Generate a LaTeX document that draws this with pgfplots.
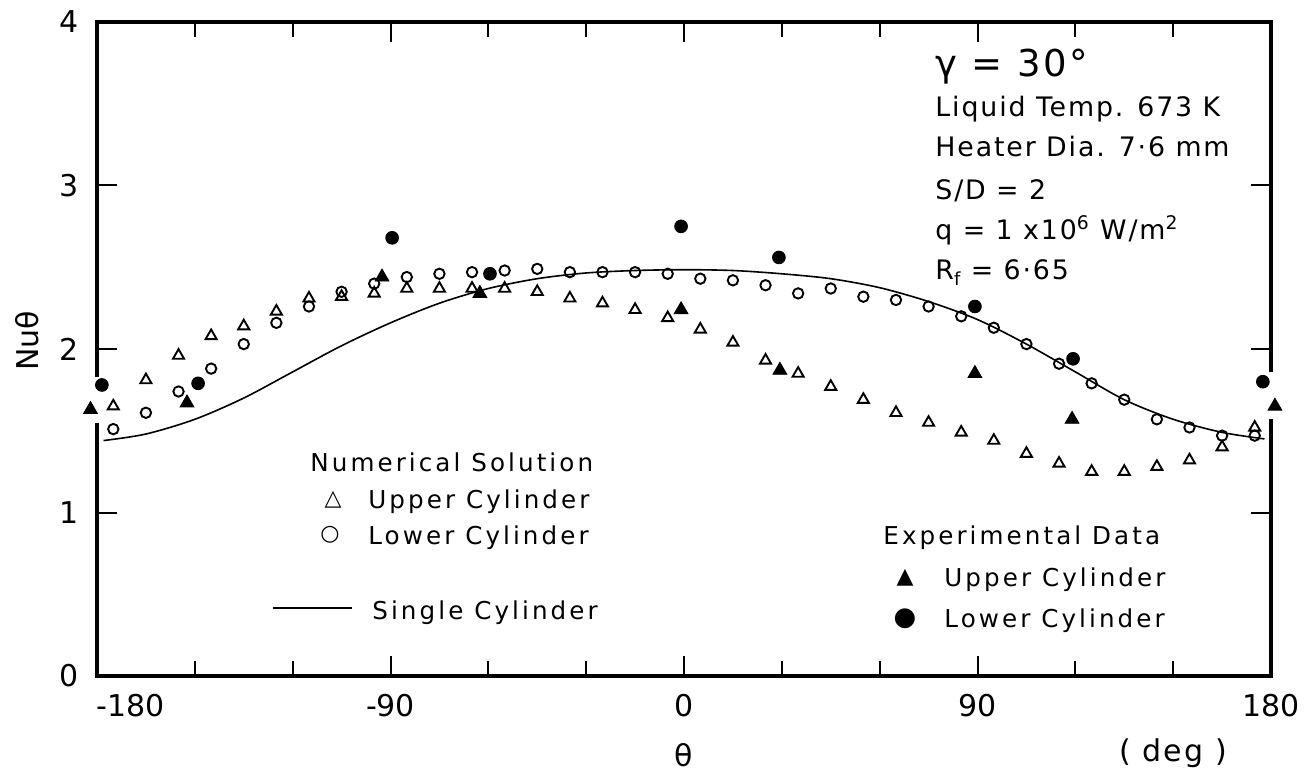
\documentclass[border=0pt]{standalone}
\usepackage{fontspec}
\setmainfont{DejaVu Sans}
\newfontfamily\lgd{DejaVu Sans}[LetterSpace=12.5]
\newfontfamily\ann{DejaVu Sans}[LetterSpace=7]
\newfontfamily\sym{DejaVu Sans}
\usepackage{pgfplots}
\pgfplotsset{compat=1.18}
\usetikzlibrary{calc}
\newcommand\PP[2]{($(ax.south west)+({(#1-97)*0.5pt},{(676-#2)*0.5pt})$)}
\begin{document}
\begin{tikzpicture}
\begin{axis}[name=ax, scale only axis, width=587pt, height=327pt,
 xmin=-180,xmax=180,ymin=0,ymax=4,
 xtick={-180,-90,0,90,180},
 xticklabels={\makebox[0pt][l]{-180},-90,0,90,180},
 minor xtick={-150,-120,-60,-30,30,60,120,150},
 ytick={0,1,2,3,4},
 tick align=inside,
 major tick length=10pt, minor tick length=7.5pt,
 tick style={line width=1pt, black},
 axis line style={draw=none},
 tick label style={font=\fontsize{15}{18}\selectfont},
 xticklabel style={yshift=-5.5pt},
 yticklabel style={xshift=-5.5pt},
 /pgf/number format/assume math mode=true,
 clip=false,
]
% single cylinder
\addplot[black, line width=0.8pt, smooth, no marks] coordinates {
(-178,1.44) (-165,1.48) (-150,1.57) (-135,1.70) (-120,1.86) (-105,2.02)
(-90,2.16) (-75,2.28) (-60,2.37) (-45,2.43) (-30,2.465) (-15,2.48)
(0,2.485) (15,2.48) (30,2.46) (45,2.43) (60,2.375) (75,2.29)
(90,2.18) (105,2.03) (120,1.86) (135,1.69) (150,1.57) (165,1.49) (178,1.45)};
% numerical upper
\addplot[only marks, mark=triangle, mark size=3.2pt, mark options={line width=0.95pt, fill=white}] coordinates {
(-175,1.65) (-165,1.81) (-155,1.96) (-145,2.08) (-135,2.14) (-125,2.23)
(-115,2.31) (-105,2.32) (-95,2.34) (-85,2.37) (-75,2.37) (-65,2.37)
(-55,2.37) (-45,2.35) (-35,2.31) (-25,2.28) (-15,2.24) (-5,2.19)
(5,2.12) (15,2.04) (25,1.93) (35,1.85) (45,1.77) (55,1.69)
(65,1.61) (75,1.55) (85,1.49) (95,1.44) (105,1.36) (115,1.30)
(125,1.25) (135,1.25) (145,1.28) (155,1.32) (165,1.40) (175,1.52)};
% numerical lower
\addplot[only marks, mark=o, mark size=2.6pt, mark options={line width=0.95pt}] coordinates {
(-175,1.51) (-165,1.61) (-155,1.74) (-145,1.88) (-135,2.03) (-125,2.16)
(-115,2.26) (-105,2.35) (-95,2.40) (-85,2.44) (-75,2.46) (-65,2.47)
(-55,2.48) (-45,2.49) (-35,2.47) (-25,2.47) (-15,2.47) (-5,2.46)
(5,2.43) (15,2.42) (25,2.39) (35,2.34) (45,2.37) (55,2.32)
(65,2.30) (75,2.26) (85,2.20) (95,2.13) (105,2.03) (115,1.91)
(125,1.79) (135,1.69) (145,1.57) (155,1.52) (165,1.47) (175,1.47)};
% experimental upper
\addplot[only marks, mark=triangle*, mark size=4pt, black] coordinates {
(-182,1.63) (-152.4,1.67) (-92.6,2.44) (-62.6,2.34) (-0.9,2.24)
(29.4,1.87) (89.2,1.85) (119,1.57) (181.2,1.65)};
% experimental lower
\addplot[only marks, mark=*, mark size=3.2pt, black] coordinates {
(-178.5,1.78) (-149,1.79) (-89.5,2.68) (-59.5,2.46) (-0.9,2.75)
(29.1,2.56) (89.2,2.26) (119.3,1.94) (177.5,1.80)};
% frame with gaps
\draw[line width=2.4pt, line join=miter] (axis cs:-180,1.83) -- (axis cs:-180,4) -- (axis cs:180,4) -- (axis cs:180,1.86);
\draw[line width=2.4pt, line join=miter] (axis cs:180,1.57) -- (axis cs:180,0) -- (axis cs:-180,0) -- (axis cs:-180,1.55);
\end{axis}
% axis labels
\node[rotate=90, font=\fontsize{15}{18}\selectfont] at \PP{27}{341} {Nuθ};
\node[font=\fontsize{15}{18}\selectfont] at \PP{684}{755} {θ};
\node[font=\ann\fontsize{15}{18}\selectfont] at \PP{1173}{753} {( deg )};
% annotation
\begin{scope}[every node/.style={anchor=base west, inner sep=0pt, font=\ann\fontsize{13.4}{16}\selectfont}]
\node[font=\ann\fontsize{18.5}{22}\selectfont] at \PP{935}{77} {γ = 30°};
\node at \PP{935}{117} {Liquid Temp. 673 K};
\node at \PP{935}{157} {Heater Dia. 7·6 mm};
\node at \PP{935}{200} {S/D = 2};
\node at \PP{935}{240} {q = 1 x10\textsuperscript{6} W/m\textsuperscript{2}};
\node at \PP{935}{280} {R\raisebox{-3pt}{\small f} = 6·65};
\end{scope}
% legends
\begin{scope}[every node/.style={anchor=base west, inner sep=0pt, font=\lgd\fontsize{12.3}{15}\selectfont}]
\node at \PP{310}{472} {Numerical Solution};
\node at \PP{368}{509} {Upper Cylinder};
\node at \PP{368}{545} {Lower Cylinder};
\node at \PP{372}{620} {Single Cylinder};
\node at \PP{883}{545} {Experimental Data};
\node at \PP{944}{587} {Upper Cylinder};
\node at \PP{944}{628} {Lower Cylinder};
\end{scope}
\node[font=\sym\fontsize{11}{13}\selectfont, inner sep=0pt] at \PP{333}{500} {△};
\node[font=\sym\fontsize{11}{13}\selectfont, inner sep=0pt] at \PP{330}{535} {○};
\node[font=\sym\fontsize{11}{13}\selectfont, inner sep=0pt] at \PP{905}{578} {▲};
\node[font=\sym\fontsize{13}{15}\selectfont, inner sep=0pt] at \PP{905}{619} {●};
\draw[line width=0.8pt] \PP{273}{608} -- \PP{352}{608};
\pgfresetboundingbox
\path[use as bounding box] \PP{0}{775} rectangle \PP{1304}{0};
\end{tikzpicture}
\end{document}
